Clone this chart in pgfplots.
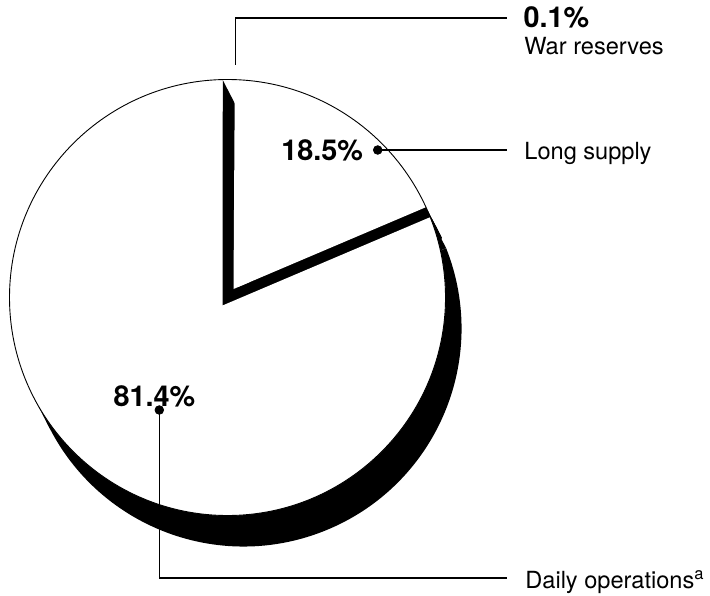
\documentclass[border=0pt]{standalone}
\usepackage{fontspec}
\setmainfont{TeX Gyre Heros}
\usepackage{pgfplots}
\pgfplotsset{compat=1.18}
% shares (percent)
\def\pctWar{0.1}
\def\pctLong{18.5}
\def\pctDaily{81.4}
% geometry in px of the axis (1 px = 0.5pt)
\def\Cx{227.5}\def\Cy{297.5}\def\R{218}\def\Rpt{109pt}
\def\dx{16}\def\dy{-31}
\def\VArx{-5}\def\VAry{-8}
\def\VBrx{6}\def\VBry{8.5}
\newcommand\edgehit[5]{%
  \pgfmathsetmacro\tmpb{((#1)*cos(#3)+(#2)*sin(#3))/100}%
  \pgfmathsetmacro\tmpc{((#1)*(#1)+(#2)*(#2))/10000-(\R/100)^2}%
  \pgfmathsetmacro\tmpt{0-(\tmpb)+sqrt((\tmpb)*(\tmpb)-(\tmpc))}%
  \pgfmathsetmacro#4{(#1)+100*\tmpt*cos(#3)}%
  \pgfmathsetmacro#5{(#2)+100*\tmpt*sin(#3)}%
}
\newcommand\mkpt[3]{%
  \pgfmathsetmacro\tmpx{\Cx+(#2)}\pgfmathsetmacro\tmpy{\Cy+(#3)}%
  \expandafter\let\csname #1x\endcsname\tmpx
  \expandafter\let\csname #1y\endcsname\tmpy
  \pgfmathsetmacro\tmpx{\Cx+(#2)+(\dx)}\pgfmathsetmacro\tmpy{\Cy+(#3)+(\dy)}%
  \expandafter\let\csname #1sx\endcsname\tmpx
  \expandafter\let\csname #1sy\endcsname\tmpy
}
\begin{document}
\begin{tikzpicture}
\pgfmathsetmacro\aA{90-3.6*\pctWar}
\pgfmathsetmacro\aB{\aA-3.6*\pctLong}
\edgehit{\VArx}{\VAry}{90}\TArx\TAry
\edgehit{\VArx}{\VAry}{\aB}\PArx\PAry
\edgehit{\VBrx}{\VBry}{\aA}\TBrx\TBry
\edgehit{\VBrx}{\VBry}{\aB}\PBrx\PBry
\pgfmathsetmacro\angTA{atan2(\TAry,\TArx)}
\pgfmathsetmacro\angTAb{\angTA-360}
\pgfmathsetmacro\angPA{atan2(\PAry,\PArx)}
\pgfmathsetmacro\angTB{atan2(\TBry,\TBrx)}
\pgfmathsetmacro\angPB{atan2(\PBry,\PBrx)}
\pgfmathsetmacro\angQ{atan2(0-(\dx),\dy)}
\pgfmathsetmacro\Qrx{\R*cos(\angQ)}
\pgfmathsetmacro\Qry{\R*sin(\angQ)}
\mkpt{VA}{\VArx}{\VAry}
\mkpt{TA}{\TArx}{\TAry}
\mkpt{PA}{\PArx}{\PAry}
\mkpt{VB}{\VBrx}{\VBry}
\mkpt{TB}{\TBrx}{\TBry}
\mkpt{PB}{\PBrx}{\PBry}
\mkpt{Q}{\Qrx}{\Qry}
\mkpt{C}{0}{0}
\begin{axis}[name=ax, x=0.5pt, y=0.5pt, xmin=0, xmax=710, ymin=0, ymax=595,
  hide axis, clip=false, enlargelimits=false]
% depth (black)
\fill[black] (axis cs:\VAsx,\VAsy) -- (axis cs:\PAsx,\PAsy)
  arc[start angle=\angPA, end angle=\angTAb, radius=\Rpt] -- cycle;
\fill[black] (axis cs:\VBsx,\VBsy) -- (axis cs:\TBsx,\TBsy)
  arc[start angle=\angTB, end angle=\angPB, radius=\Rpt] -- cycle;
\fill[black] (axis cs:\VAx,\VAy) -- (axis cs:\TAx,\TAy) -- (axis cs:\TAsx,\TAsy) -- (axis cs:\VAsx,\VAsy) -- cycle;
\fill[black] (axis cs:\VBx,\VBy) -- (axis cs:\PBx,\PBy) -- (axis cs:\PBsx,\PBsy) -- (axis cs:\VBsx,\VBsy) -- cycle;
\fill[black] (axis cs:\Cx,\Cy) -- (axis cs:\PAx,\PAy) -- (axis cs:\PAsx,\PAsy) -- (axis cs:\Csx,\Csy) -- cycle;
\fill[black] (axis cs:\Cx,\Cy) -- (axis cs:\PBx,\PBy) -- (axis cs:\PBsx,\PBsy) -- (axis cs:\Csx,\Csy) -- cycle;
\fill[black] (axis cs:\Cx,\Cy) -- (axis cs:\Qx,\Qy) -- (axis cs:\Qsx,\Qsy) -- (axis cs:\Csx,\Csy) -- cycle;
% faces (white)
\fill[white] (axis cs:\VAx,\VAy) -- (axis cs:\PAx,\PAy)
  arc[start angle=\angPA, end angle=\angTAb, radius=\Rpt] -- cycle;
\fill[white] (axis cs:\VBx,\VBy) -- (axis cs:\TBx,\TBy)
  arc[start angle=\angTB, end angle=\angPB, radius=\Rpt] -- cycle;
\draw[black, line width=0.45pt] (axis cs:\Cx,\Cy) circle[radius=\Rpt];
% leaders
\addplot[black, line width=0.6pt, mark=none] coordinates {(235.7,530) (235.7,577) (506.7,577)};
\addplot[black, line width=0.6pt, mark=none] coordinates {(377.7,445) (506.7,445)};
\addplot[black, line width=0.6pt, mark=none] coordinates {(159.3,185) (159.3,17) (506.7,17)};
\addplot[black, only marks, mark=*, mark size=2.15pt] coordinates {(377.7,445) (159.3,185)};
% labels
\node[anchor=base west, inner sep=0pt, font=\fontsize{14.4}{17}\selectfont\bfseries] at (axis cs:523.3,567.7) {\pctWar\%};
\node[anchor=base west, inner sep=0pt, font=\fontsize{11.8}{14}\selectfont] at (axis cs:524,540.7) {War reserves};
\node[anchor=base west, inner sep=0pt, font=\fontsize{11.8}{14}\selectfont] at (axis cs:524,435.7) {Long supply};
\node[anchor=base east, inner sep=0pt, font=\fontsize{14.4}{17}\selectfont\bfseries] at (axis cs:363.3,434.3) {\pctLong\%};
\node[anchor=base west, inner sep=0pt, font=\fontsize{14.4}{17}\selectfont\bfseries] at (axis cs:113.3,189) {\pctDaily\%};
\node[anchor=base west, inner sep=0pt, font=\fontsize{11.8}{14}\selectfont] at (axis cs:525,7) {Daily operations\textsuperscript{a}};
\end{axis}
\pgfresetboundingbox
\useasboundingbox (ax.south west) rectangle (ax.north east);
\end{tikzpicture}
\end{document}
